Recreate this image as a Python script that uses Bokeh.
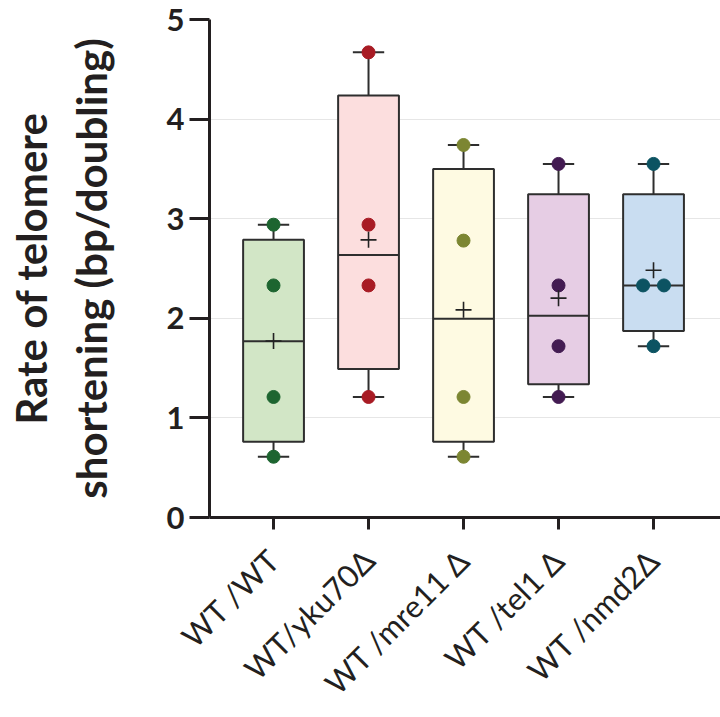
import numpy as np
from math import pi
from bokeh.plotting import figure
from bokeh.models import Range1d, FixedTicker, ColumnDataSource
from bokeh.embed import file_html
from bokeh.resources import INLINE

# ---- data ----
groups = ["WT /WT", "WT/yku70Δ", "WT /mre11 Δ", "WT /tel1 Δ", "WT /nmd2Δ"]
wt_wt = [2.94, 2.33, 1.21, 0.61]
wt_yku70 = [4.67, 2.94, 2.33, 1.21]
wt_mre11 = [3.74, 2.78, 1.21, 0.61]
wt_tel1 = [3.55, 2.33, 1.72, 1.21]
wt_nmd2 = [3.55, 2.33, 2.33, 1.72]
series = [wt_wt, wt_yku70, wt_mre11, wt_tel1, wt_nmd2]
box_fills = ["#d2e6c6", "#fcdede", "#fefae2", "#e6cde4", "#c9ddf1"]
point_colors = ["#1d6530", "#a81b24", "#7c8632", "#431b52", "#0c5362"]
y_ticks = [0, 1, 2, 3, 4, 5]

FONT = "Lato"
INK = "#231f20"

xs = list(range(1, len(groups) + 1))
q1, q3, med, mean, lo, hi = [], [], [], [], [], []
for vals in series:
    a = np.array(vals)
    q1.append(float(np.percentile(a, 25, method="weibull")))
    q3.append(float(np.percentile(a, 75, method="weibull")))
    med.append(float(np.median(a)))
    mean.append(float(a.mean()))
    lo.append(float(a.min()))
    hi.append(float(a.max()))

bw = 0.64
cw = 0.33
box_src = ColumnDataSource(dict(x=xs, q1=q1, q3=q3, med=med, mean=mean, lo=lo, hi=hi,
                                fill=box_fills,
                                left=[x - bw / 2 for x in xs], right=[x + bw / 2 for x in xs],
                                cl=[x - cw / 2 for x in xs], cr=[x + cw / 2 for x in xs]))

# points (identical values within a group are spread side by side)
px, py, pc = [], [], []
for x, vals, c in zip(xs, series, point_colors):
    counts = {}
    for v in vals:
        counts[v] = counts.get(v, 0) + 1
    seen = {}
    for v in vals:
        n = counts[v]
        k = seen.get(v, 0)
        seen[v] = k + 1
        off = (k - (n - 1) / 2) * 0.22
        px.append(x + off)
        py.append(v)
        pc.append(c)
pt_src = ColumnDataSource(dict(x=px, y=py, c=pc))

p = figure(width=720, height=717,
           x_range=Range1d(0.326, 5.705), y_range=Range1d(0, 5),
           output_backend="svg", toolbar_location=None,
           min_border_left=209, min_border_right=0,
           min_border_top=19, min_border_bottom=198)
p.outline_line_color = None
p.background_fill_color = "white"
p.border_fill_color = "white"
p.xgrid.visible = False
p.ygrid.grid_line_color = "#e6e6e6"
p.ygrid.grid_line_width = 1
p.ygrid.ticker = FixedTicker(ticks=y_ticks)

# boxes
p.quad(left="left", right="right", bottom="q1", top="q3", source=box_src,
       fill_color="fill", line_color="#2e2e2e", line_width=2)
# whiskers
p.segment(x0="x", y0="q3", x1="x", y1="hi", source=box_src, line_color="#2e2e2e", line_width=2)
p.segment(x0="x", y0="q1", x1="x", y1="lo", source=box_src, line_color="#2e2e2e", line_width=2)
# caps
p.segment(x0="cl", y0="hi", x1="cr", y1="hi", source=box_src, line_color="#2e2e2e", line_width=2)
p.segment(x0="cl", y0="lo", x1="cr", y1="lo", source=box_src, line_color="#2e2e2e", line_width=2)
# medians
p.segment(x0="left", y0="med", x1="right", y1="med", source=box_src, line_color="#2e2e2e", line_width=2)
# points
p.scatter(x="x", y="y", source=pt_src, size=13, fill_color="c", line_color="c", marker="circle")
# means
p.scatter(x="x", y="mean", source=box_src, marker="cross", size=16, line_color="#222222", line_width=1.6)

# y axis
ya = p.yaxis[0]
ya.ticker = FixedTicker(ticks=y_ticks)
ya.bounds = (0, 5)
ya.axis_label = "Rate of telomere\nshortening (bp/doubling)"
ya.axis_label_text_font = FONT
ya.axis_label_text_font_style = "bold"
ya.axis_label_text_font_size = "42px"
ya.axis_label_text_color = INK
ya.axis_label_standoff = 48
ya.major_label_text_font = FONT
ya.major_label_text_font_style = "bold"
ya.major_label_text_font_size = "31px"
ya.major_label_text_color = INK
ya.major_label_standoff = 5
ya.axis_line_width = 3
ya.axis_line_color = INK
ya.major_tick_line_width = 3
ya.major_tick_line_color = INK
ya.major_tick_out = 20
ya.major_tick_in = 0
ya.minor_tick_line_color = None

# x axis
xa = p.xaxis[0]
xa.ticker = FixedTicker(ticks=xs)
xa.major_label_overrides = {x: g for x, g in zip(xs, groups)}
xa.major_label_orientation = pi / 4
xa.major_label_text_font = FONT
xa.major_label_text_font_size = "31px"
xa.major_label_text_color = INK
xa.major_label_standoff = 25
xa.axis_line_width = 3
xa.axis_line_color = INK
xa.major_tick_line_width = 3
xa.major_tick_line_color = INK
xa.major_tick_out = 12
xa.major_tick_in = 0
xa.minor_tick_line_color = None

open("out.html", "w").write(file_html(p, INLINE))
